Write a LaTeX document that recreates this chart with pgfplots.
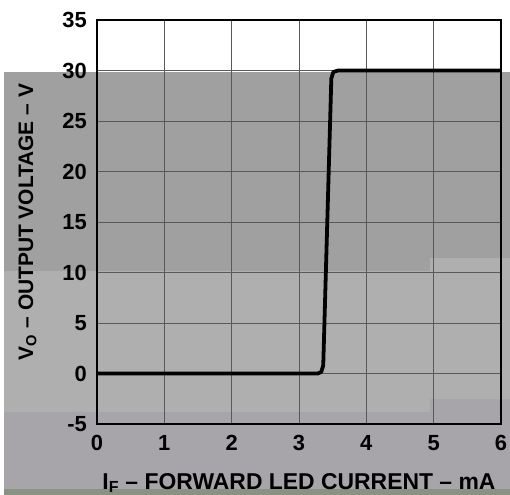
\documentclass[border=0pt]{standalone}
\usepackage{pgfplots}
\pgfplotsset{compat=1.18}
\usepackage{fontspec}
\setmainfont{Liberation Sans}
\definecolor{bandA}{RGB}{160,160,160}
\definecolor{bandB}{RGB}{176,175,176}
\definecolor{bandC}{RGB}{168,165,170}
\definecolor{bandD}{RGB}{138,146,130}
\begin{document}
\begin{tikzpicture}
\path[use as bounding box] (-97bp,-71bp) rectangle (413bp,424bp);
% scan shading bands
\fill[bandA] (-93bp,153bp) rectangle (333bp,352bp);
\fill[bandA] (333bp,166bp) rectangle (413bp,352bp);
\fill[bandB] (-93bp,12bp) rectangle (333bp,153bp);
\fill[bandB] (333bp,25bp) rectangle (413bp,166bp);
\fill[bandC] (-93bp,-65bp) rectangle (333bp,12bp);
\fill[bandC] (333bp,-65bp) rectangle (413bp,25bp);
\fill[bandD] (-93bp,-71bp) rectangle (413bp,-65bp);
\begin{axis}[
  at={(0,0)}, anchor=south west,
  scale only axis, width=404bp, height=404bp,
  xmin=0, xmax=6, ymin=-5, ymax=35,
  xtick={0,1,2,3,4,5,6},
  ytick={-5,0,5,10,15,20,25,30,35},
  grid=major,
  major grid style={line width=0.7pt, black!65},
  axis line style={line width=1.8pt, black},
  major tick length=0pt,
  /pgf/number format/assume math mode=true,
  tick label style={font=\fontsize{22}{25}\selectfont\bfseries, inner sep=0pt},
  yticklabel style={anchor=east, xshift=-10bp},
  xticklabel style={anchor=north, yshift=-11bp},
  xlabel={I\textsubscript{F} -- FORWARD LED CURRENT -- mA},
  ylabel={V\textsubscript{O} -- OUTPUT VOLTAGE -- V},
  label style={inner sep=0pt},
  xlabel style={font=\fontsize{23}{26}\selectfont\bfseries, at={(axis description cs:0.5,-0.161)}, anchor=base},
  ylabel style={font=\fontsize{21}{24}\selectfont\bfseries, at={(axis description cs:-0.158,0.5)}, anchor=base, rotate=0},
]
\addplot[line width=3.8pt, black, line join=round, line cap=round] coordinates {
(0,0) (3.28,0) (3.33,0.15) (3.36,0.8) (3.48,29.2) (3.51,29.85) (3.58,30) (6,30)
};
\end{axis}
\end{tikzpicture}
\end{document}
